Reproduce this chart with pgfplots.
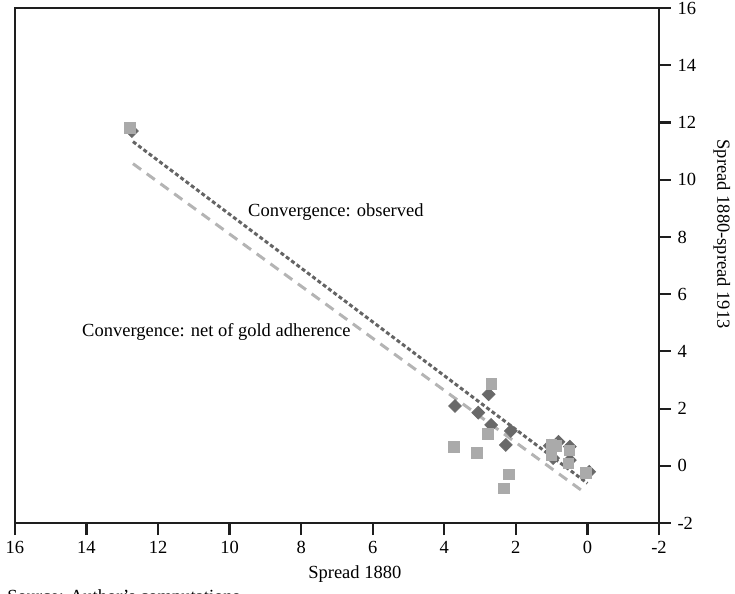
\documentclass[border=0pt]{standalone}
\usepackage{pgfplots}
\pgfplotsset{compat=1.18}
\usepackage{fontspec}
\setmainfont{Liberation Serif}
\definecolor{darkpt}{RGB}{105,105,105}
\definecolor{lightpt}{RGB}{170,170,170}
\definecolor{darkln}{RGB}{100,100,100}
\definecolor{lightln}{RGB}{180,180,180}
\definecolor{axcol}{RGB}{30,30,30}
\begin{document}
\fontsize{9.25}{11}\selectfont
\begin{tikzpicture}
\begin{axis}[
  name=ax,
  scale only axis,
  width=322pt, height=257.5pt,
  x dir=reverse,
  xmin=-2, xmax=16, ymin=-2, ymax=16,
  xtick={-2,0,2,4,6,8,10,12,14,16},
  xticklabels={-2,0,2,4,6,8,10,12,14,16},
  ytick={-2,0,2,4,6,8,10,12,14,16},
  yticklabels={-2,0,2,4,6,8,10,12,14,16},
  xtick pos=bottom, ytick pos=right,
  tick align=outside,
  major tick length=6pt,
  every tick/.style={axcol, line width=1.1pt},
  axis line style={axcol, line width=1.1pt},
  clip=false,
]
% fitted lines
\addplot[darkln, line width=1.5pt, dash pattern=on 2pt off 1.3pt] coordinates {(12.7,11.33) (0.0,-0.61)};
\addplot[lightln, line width=1.5pt, dash pattern=on 5pt off 3.5pt] coordinates {(12.7,10.56) (0.05,-0.96)};
% observed (diamonds)
\addplot[only marks, mark=square*, mark size=2.25pt, mark options={rotate=45, fill=darkpt, draw=darkpt}] coordinates {
(12.73,11.70) (3.70,2.09) (2.76,2.50) (3.05,1.86) (2.69,1.43) (2.14,1.22) (2.28,0.73)
(0.81,0.84) (0.49,0.67) (0.49,0.20) (0.96,0.27) (-0.05,-0.21) (1.05,0.70)
};
% net of gold adherence (squares)
\addplot[only marks, mark=square*, mark size=2.6pt, mark options={fill=lightpt, draw=lightpt}] coordinates {
(12.79,11.81) (2.69,2.86) (2.78,1.11) (3.73,0.66) (3.09,0.45) (2.19,-0.29) (2.33,-0.78)
(0.04,-0.25) (1.00,0.73) (0.86,0.70) (1.00,0.38) (0.51,0.55) (0.53,0.09)
};
\node[anchor=west, inner sep=0pt] at (axis cs:9.49,8.87) {Convergence: observed};
\node[anchor=west, inner sep=0pt] at (axis cs:14.13,4.68) {Convergence: net of gold adherence};
\node[rotate=-90] at (axis cs:-3.76,8.1) {Spread 1880-spread 1913};
\node at (axis cs:6.5,-3.78) {Spread 1880};
\node[anchor=base west, inner sep=0pt] at (axis cs:16.22,-4.78) {Source: Author's computations.};
\coordinate (bbsw) at (axis cs:16.417,-4.446);
\coordinate (bbne) at (axis cs:-4.125,16.281);
\end{axis}
\pgfresetboundingbox
\useasboundingbox (bbsw) rectangle (bbne);
\end{tikzpicture}
\end{document}
